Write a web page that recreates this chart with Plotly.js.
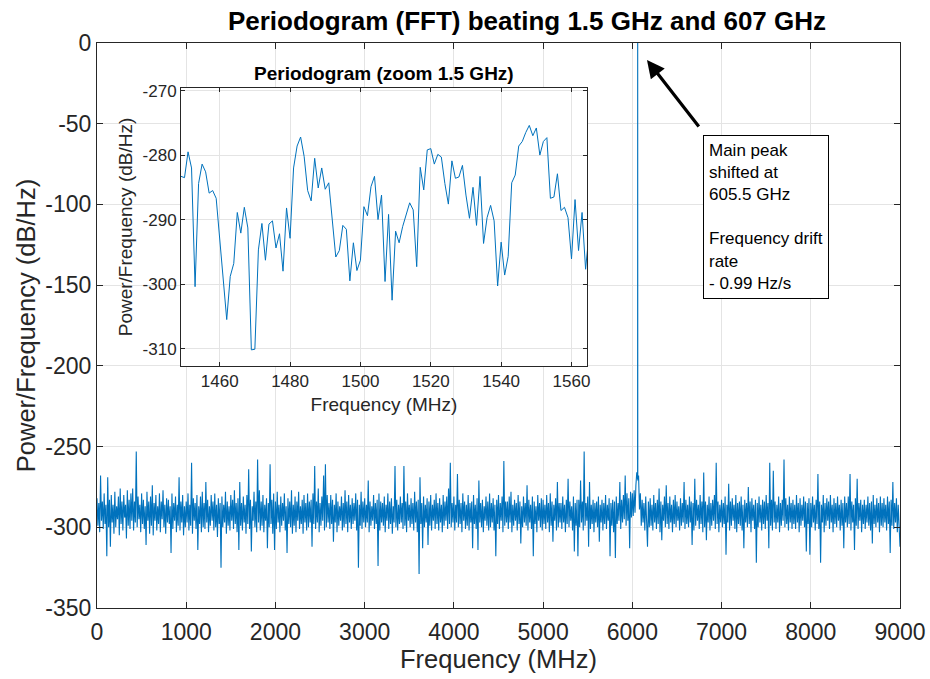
<!DOCTYPE html>
<html>
<head>
<meta charset="utf-8">
<script src="https://cdn.plot.ly/plotly-3.0.1.min.js"></script>
<style>html,body{margin:0;padding:0;background:#fff;}#chart{width:930px;height:679px;}</style>
</head>
<body>
<div id="chart"></div>
<script>
// ---- Main periodogram: sampled every 10 MHz from 0 to 9000 MHz (dB/Hz) ----
const FREQ_START_MHZ = 0;
const FREQ_STEP_MHZ = 10;
const powerDb = [
-282,-299,-285,-303,-268,-296,-284,-301,-279,-298,-286,-318,-269,-300,-283,-312,-280,-297,-286,-304,
-278,-300,-287,-295,-281,-305,-276,-298,-284,-302,-280,-294,-286,-307,-277,-299,-283,-301,-279,-296,
-276,-302,-284,-297,-253,-300,-281,-295,-286,-303,-279,-298,-283,-301,-287,-311,-278,-296,-284,-304,
-281,-299,-274,-305,-285,-296,-280,-302,-287,-298,-279,-303,-284,-295,-277,-300,-286,-304,-282,-297,
-283,-298,-287,-316,-279,-301,-285,-296,-281,-303,-286,-299,-269,-302,-284,-297,-280,-305,-287,-300,
-284,-297,-279,-302,-286,-299,-260,-304,-282,-296,-285,-301,-280,-314,-287,-298,-281,-303,-278,-300,
-285,-301,-272,-297,-283,-303,-287,-299,-280,-296,-284,-302,-279,-300,-286,-306,-282,-298,-285,-325,
-281,-300,-286,-297,-278,-304,-284,-299,-287,-302,-280,-296,-283,-301,-277,-298,-285,-303,-282,-314,
-272,-299,-285,-302,-281,-297,-286,-304,-280,-298,-264,-301,-283,-315,-287,-296,-278,-300,-284,-303,
-258,-297,-277,-302,-284,-299,-280,-303,-286,-296,-282,-313,-285,-300,-261,-298,-283,-304,-279,-314,
-284,-301,-278,-297,-286,-303,-281,-299,-285,-296,-279,-302,-287,-316,-282,-298,-284,-300,-277,-304,
-286,-299,-281,-303,-284,-296,-278,-301,-287,-298,-283,-304,-280,-297,-285,-302,-279,-300,-284,-297,
-283,-312,-279,-298,-262,-301,-284,-297,-276,-303,-285,-299,-281,-296,-268,-302,-261,-300,-280,-297,
-285,-301,-280,-298,-283,-309,-286,-297,-279,-303,-284,-299,-287,-296,-281,-302,-285,-300,-277,-298,
-284,-303,-280,-297,-286,-301,-282,-298,-285,-296,-279,-302,-283,-325,-286,-299,-278,-301,-284,-297,
-282,-300,-286,-297,-271,-303,-284,-299,-287,-296,-280,-301,-285,-298,-283,-324,-279,-302,-284,-297,
-285,-299,-281,-303,-286,-296,-279,-301,-284,-298,-282,-304,-287,-297,-262,-300,-283,-302,-286,-298,
-281,-297,-285,-301,-262,-299,-284,-303,-279,-296,-286,-300,-282,-298,-285,-302,-278,-297,-284,-303,
-283,-329,-269,-298,-285,-313,-281,-300,-286,-297,-282,-311,-284,-299,-280,-302,-286,-296,-283,-301,
-279,-298,-285,-302,-282,-297,-286,-303,-280,-299,-284,-296,-281,-301,-276,-298,-260,-300,-285,-297,
-281,-302,-286,-297,-267,-300,-283,-298,-285,-303,-279,-296,-284,-301,-286,-299,-280,-302,-285,-297,
-284,-313,-280,-298,-286,-301,-282,-314,-271,-297,-285,-300,-283,-303,-287,-296,-281,-299,-284,-302,
-279,-300,-285,-297,-282,-302,-286,-318,-283,-298,-280,-301,-285,-296,-281,-303,-259,-299,-284,-297,
-284,-301,-281,-297,-278,-303,-286,-299,-283,-296,-285,-302,-280,-298,-284,-310,-287,-300,-281,-297,
-285,-299,-274,-302,-283,-297,-286,-301,-281,-318,-284,-298,-287,-303,-280,-296,-285,-300,-282,-302,
-283,-298,-286,-301,-280,-297,-285,-303,-279,-299,-284,-309,-286,-296,-282,-302,-272,-300,-285,-297,
-285,-301,-281,-297,-286,-303,-283,-298,-270,-300,-284,-296,-287,-302,-281,-315,-285,-299,-283,-318,
-283,-300,-271,-297,-284,-302,-253,-299,-285,-296,-281,-312,-272,-301,-286,-298,-283,-303,-285,-297,
-284,-300,-281,-309,-286,-297,-283,-302,-285,-298,-280,-301,-286,-296,-282,-318,-285,-299,-283,-303,
-284,-319,-281,-298,-285,-296,-272,-301,-283,-297,-280,-295,-268,-299,-279,-296,-282,-313,-278,-294,
-279,-293,-277,-291,-274,-266,0,-268,-289,-279,-299,-283,-297,-285,-302,-281,-298,-312,-284,-300,
-282,-299,-286,-302,-280,-297,-285,-301,-283,-298,-276,-303,-284,-308,-286,-296,-281,-300,-274,-298,
-285,-301,-281,-297,-286,-303,-283,-298,-280,-300,-284,-296,-287,-302,-282,-299,-285,-297,-272,-301,
-283,-298,-286,-300,-281,-297,-284,-311,-285,-302,-270,-299,-283,-296,-286,-301,-280,-298,-284,-303,
-266,-300,-284,-308,-286,-297,-281,-302,-285,-299,-283,-296,-280,-301,-260,-298,-284,-303,-286,-297,
-283,-300,-285,-298,-281,-317,-286,-297,-273,-302,-284,-299,-282,-296,-286,-301,-280,-303,-285,-298,
-284,-299,-281,-302,-286,-313,-283,-297,-285,-300,-275,-298,-284,-303,-282,-296,-286,-301,-283,-322,
-285,-300,-281,-297,-286,-302,-283,-298,-284,-301,-280,-296,-285,-313,-260,-299,-283,-302,-265,-297,
-284,-301,-286,-297,-281,-303,-285,-299,-283,-296,-258,-300,-282,-298,-286,-302,-281,-297,-285,-301,
-283,-298,-286,-301,-280,-297,-285,-303,-282,-299,-286,-296,-281,-300,-284,-315,-285,-298,-282,-317,
-285,-300,-281,-297,-286,-302,-283,-298,-267,-301,-284,-322,-286,-297,-280,-303,-285,-299,-282,-296,
-284,-301,-280,-297,-286,-303,-282,-298,-285,-300,-281,-296,-286,-302,-283,-299,-285,-313,-281,-297,
-285,-300,-281,-298,-267,-302,-284,-297,-286,-314,-282,-299,-270,-301,-285,-296,-283,-303,-286,-298,
-283,-301,-286,-297,-281,-299,-285,-302,-284,-310,-280,-298,-286,-300,-282,-297,-285,-303,-281,-299,
-285,-300,-282,-297,-286,-302,-281,-298,-284,-316,-283,-299,-272,-301,-285,-297,-282,-303,-286,-299,
-312
];
// Narrow shoulders of the main beat peak (finer bins right beside the 6060 MHz maximum)
const peakShoulderFreqMHz = [6059, 6061];
const peakShoulderDb = [-270, -271];

// ---- Inset: zoom around 1.5 GHz (1 MHz bins) ----
const insetFreqMHz = [
1449,1450,1451,1452,1453,1454,1455,1456,1457,1458,
1459,1460,1461,1462,1463,1464,1465,1466,1467,1468,
1469,1470,1471,1472,1473,1474,1475,1476,1477,1478,
1479,1480,1481,1482,1483,1484,1485,1486,1487,1488,
1489,1490,1491,1492,1493,1494,1495,1496,1497,1498,
1499,1500,1501,1502,1503,1504,1505,1506,1507,1508,
1509,1510,1511,1512,1513,1514,1515,1516,1517,1518,
1519,1520,1521,1522,1523,1524,1525,1526,1527,1528,
1529,1530,1531,1532,1533,1534,1535,1536,1537,1538,
1539,1540,1541,1542,1543,1544,1545,1546,1547,1548,
1549,1550,1551,1552,1553,1554,1555,1556,1557,1558,
1559,1560,1561,1562,1563,1564,1565
];
const insetPowerDb = [
-283.3,-283.5,-279.5,-282.0,-300.4,-284.4,-281.4,-282.6,-285.9,-285.5,
-286.7,-293.0,-298.3,-305.5,-298.8,-296.8,-288.9,-292.1,-288.1,-291.3,
-310.2,-310.1,-294.7,-290.6,-296.3,-290.7,-290.2,-294.4,-292.2,-298.0,
-288.2,-292.9,-282.0,-278.6,-277.2,-280.2,-285.5,-287.1,-280.5,-285.1,
-282.0,-285.3,-284.3,-289.5,-295.8,-294.8,-290.9,-291.5,-299.5,-293.6,
-297.9,-296.3,-288.0,-289.4,-284.9,-283.3,-290.0,-286.2,-299.6,-289.2,
-302.5,-291.8,-293.6,-291.1,-289.3,-287.4,-288.5,-297.3,-281.9,-285.4,
-279.2,-279.0,-281.4,-279.9,-280.3,-284.4,-287.6,-280.9,-283.6,-283.4,
-281.6,-286.2,-289.8,-285.0,-290.9,-283.3,-293.7,-289.7,-287.8,-290.2,
-300.3,-293.5,-298.6,-295.7,-284.3,-283.1,-278.6,-277.9,-276.5,-275.4,
-277.0,-275.8,-280.0,-277.9,-277.3,-286.7,-286.5,-282.9,-288.6,-288.1,
-289.7,-296.1,-286.9,-294.8,-288.9,-297.7,-292.0
];

// ---- Tick labels ----
const mainXTicks = [0,1000,2000,3000,4000,5000,6000,7000,8000,9000];
const mainXLabels = ['0','1000','2000','3000','4000','5000','6000','7000','8000','9000'];
const mainYTicks = [0,-50,-100,-150,-200,-250,-300,-350];
const mainYLabels = ['0','-50','-100','-150','-200','-250','-300','-350'];
const insetXTicks = [1460,1480,1500,1520,1540,1560];
const insetXLabels = ['1460','1480','1500','1520','1540','1560'];
const insetYTicks = [-270,-280,-290,-300,-310];
const insetYLabels = ['-270','-280','-290','-300','-310'];

const noteLines = ['Main peak','shifted at','605.5 GHz','&nbsp;','Frequency drift','rate','- 0.99 Hz/s'];

// merge the regular grid with the peak shoulder bins, ordered by frequency
const mainPoints = powerDb.map((v, i) => [FREQ_START_MHZ + i * FREQ_STEP_MHZ, v])
  .concat(peakShoulderFreqMHz.map((f, i) => [f, peakShoulderDb[i]]))
  .sort((a, b) => a[0] - b[0]);
const mainX = mainPoints.map(p => p[0]);
const mainY = mainPoints.map(p => p[1]);

const FONT = 'Liberation Sans, Arial, Helvetica, sans-serif';
const AX = '#262626';
const GRID = '#e4e4e4';
const LINE = '#0072BD';

const traces = [
  {x: mainX, y: mainY, type: 'scatter', mode: 'lines', xaxis: 'x', yaxis: 'y',
   line: {color: LINE, width: 1.1}, hoverinfo: 'skip'},
  {x: insetFreqMHz, y: insetPowerDb, type: 'scatter', mode: 'lines', xaxis: 'x2', yaxis: 'y2',
   line: {color: LINE, width: 1}, hoverinfo: 'skip'}
];

function axisBase() {
  return {showline: true, linecolor: AX, linewidth: 1, mirror: 'ticks', ticks: 'inside',
          tickcolor: AX, showgrid: true, gridcolor: GRID, gridwidth: 1, zeroline: false,
          automargin: false};
}

const layout = {
  width: 930, height: 679,
  margin: {l: 97, r: 30, t: 43, b: 71},
  paper_bgcolor: '#ffffff', plot_bgcolor: '#ffffff',
  showlegend: false,
  font: {family: FONT, color: AX},
  title: {text: 'Periodogram (FFT) beating 1.5 GHz and 607 GHz',
          font: {family: FONT, size: 26, color: '#000000', weight: 'bold'},
          xref: 'paper', x: 0.5355, xanchor: 'center',
          yref: 'container', y: 0.969, yanchor: 'middle'},
  xaxis: Object.assign(axisBase(), {
    domain: [0, 1], anchor: 'y', range: [0, 9000],
    tickmode: 'array', tickvals: mainXTicks, ticktext: mainXLabels, ticklen: 6,
    ticklabelstandoff: 3,
    tickfont: {size: 23, color: AX, family: FONT},
    title: {text: 'Frequency (MHz)', font: {size: 25.5, color: AX, family: FONT}, standoff: 2}
  }),
  yaxis: Object.assign(axisBase(), {
    domain: [0, 1], anchor: 'x', range: [-350, 0],
    tickmode: 'array', tickvals: mainYTicks, ticktext: mainYLabels, ticklen: 6,
    tickfont: {size: 23, color: AX, family: FONT},
    title: {text: 'Power/Frequency (dB/Hz)', font: {size: 25.5, color: AX, family: FONT}, standoff: 2}
  }),
  xaxis2: Object.assign(axisBase(), {
    domain: [0.1046, 0.6102], anchor: 'y2', range: [1449, 1564.4],
    tickmode: 'array', tickvals: insetXTicks, ticktext: insetXLabels, ticklen: 4,
    tickfont: {size: 17, color: AX, family: FONT},
    title: {text: 'Frequency (MHz)', font: {size: 19, color: AX, family: FONT}, standoff: 7}
  }),
  yaxis2: Object.assign(axisBase(), {
    domain: [0.4283, 0.9204], anchor: 'x2', range: [-312.7, -269.6],
    tickmode: 'array', tickvals: insetYTicks, ticktext: insetYLabels, ticklen: 4,
    tickfont: {size: 17, color: AX, family: FONT},
    title: {text: 'Power/Frequency (dB/Hz)', font: {size: 19, color: AX, family: FONT}, standoff: 4}
  }),
  annotations: [
    {xref: 'paper', yref: 'paper', x: 0.3574, y: 0.9469, xanchor: 'center', yanchor: 'middle',
     text: 'Periodogram (zoom 1.5 GHz)', showarrow: false,
     font: {family: FONT, size: 19, color: '#000000', weight: 'bold'}},
    {xref: 'x', yref: 'y', x: 6164, y: -10.5, ax: 53, ay: 68, text: '',
     showarrow: true, arrowhead: 2, arrowsize: 1.1, arrowwidth: 3.2, arrowcolor: '#000000'},
    {xref: 'paper', yref: 'paper', x: 0.7547, y: 0.8372, xanchor: 'left', yanchor: 'top',
     align: 'left', text: noteLines.join('<br>'), showarrow: false,
     bordercolor: '#000000', borderwidth: 1, borderpad: 5, bgcolor: '#ffffff',
     font: {family: FONT, size: 17, color: '#000000'}}
  ]
};

Plotly.newPlot('chart', traces, layout, {staticPlot: true, displayModeBar: false});
</script>
</body>
</html>
